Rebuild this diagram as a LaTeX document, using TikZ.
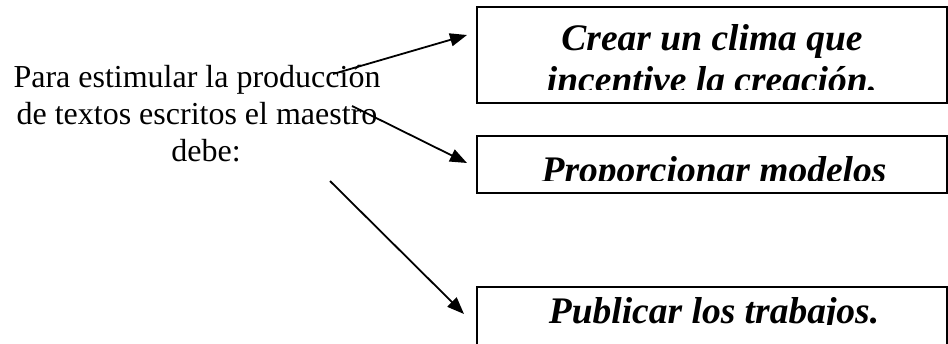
\documentclass[tikz,border=0pt]{standalone}
\usepackage{fontspec}
\setmainfont{Liberation Serif}
\usetikzlibrary{arrows.meta,positioning,calc}

\begin{document}
\begin{tikzpicture}[
    x=1pt, y=-1pt,
    box/.style={rectangle, draw, line width=1.5pt, minimum width=470pt, inner sep=0pt},
    boxtext/.style={font=\fontsize{37.5}{42}\selectfont\bfseries\itshape, align=center, inner sep=0pt},
    lead/.style={font=\fontsize{32}{37}\selectfont, align=center, inner sep=0pt},
    arrow/.style={-{Triangle[length=17pt, width=13pt]}, line width=1.8pt}
]
\useasboundingbox (0,0) rectangle (948,343);
\clip (0,0) rectangle (948,343);

% Text on the left
\node[lead] (intro) at (197,114) {Para estimular la producción\\de textos escritos el maestro\\\hspace*{18pt}debe:};

% Boxes on the right
\node[box, minimum height=96pt] (crear) at (712,55) {};
\node[box, minimum height=57pt] (modelos) at (712,164.5) {};
\node[box, minimum height=80pt] (publicar) at (712,327) {};

% Box texts, cut at the bottom as in the original
\begin{scope}
\clip (crear.north west) rectangle ($(crear.south east)+(0,-14)$);
\node[boxtext] (crearText) at (712,59) {Crear un clima que\\incentive la creación.};
\end{scope}
\begin{scope}
\clip (modelos.north west) rectangle ($(modelos.south east)+(0,-13)$);
\node[boxtext, anchor=base] (modelosText) at (714,182) {Proporcionar modelos};
\end{scope}
\begin{scope}
\clip (publicar.north west) rectangle ($(publicar.north east)+(0,38)$);
\node[boxtext, anchor=base] (publicarText) at (714,323) {Publicar los trabajos.};
\end{scope}

% Arrows
\coordinate (from1) at (333,74);
\coordinate (to1) at (467,35);
\coordinate (from2) at (352,106);
\coordinate (to2) at (467,163);
\coordinate (from3) at (330,181);
\coordinate (to3) at (464,314);

\draw[arrow] (from1) -- (to1);
\draw[arrow] (from2) -- (to2);
\draw[arrow] (from3) -- (to3);

\end{tikzpicture}
\end{document}
